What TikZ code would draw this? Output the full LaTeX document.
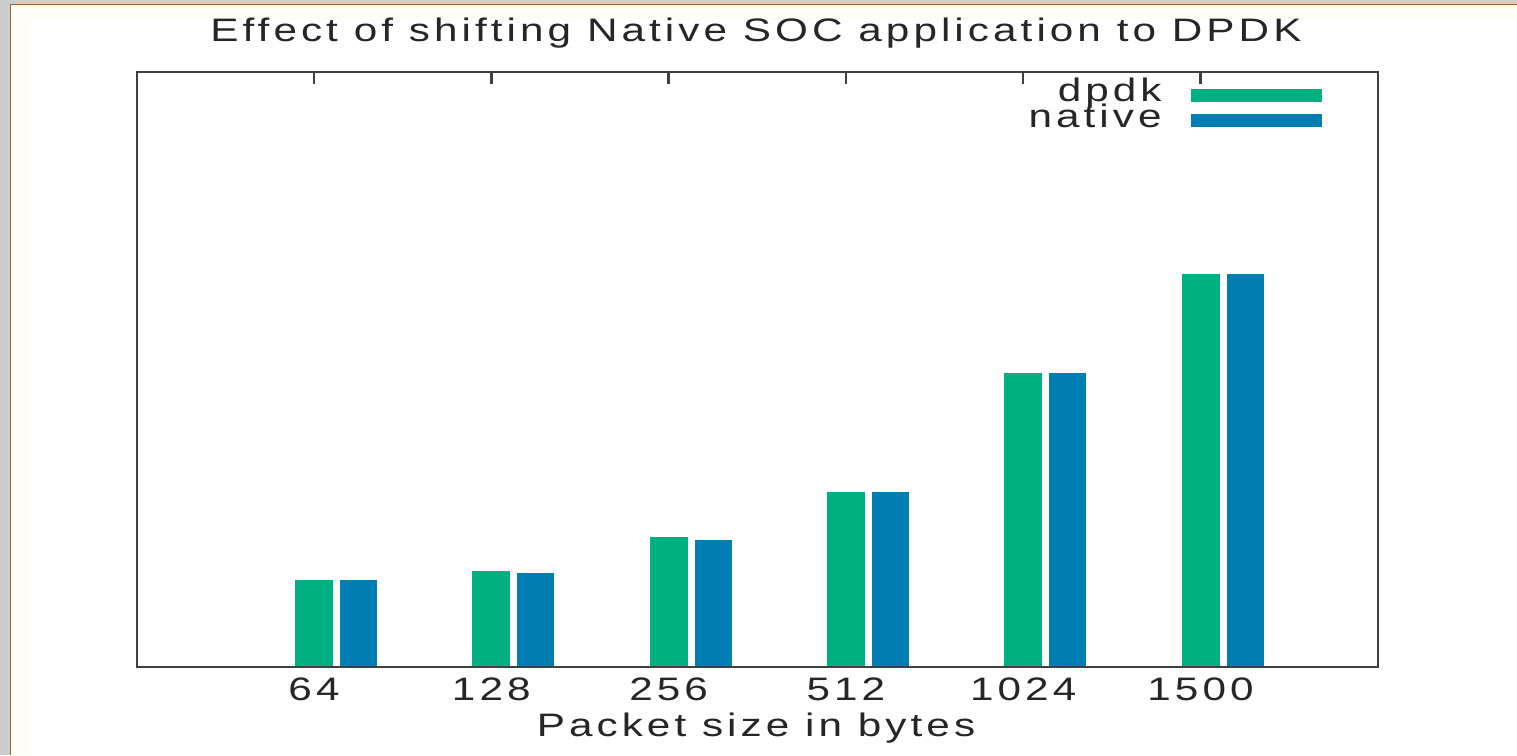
\documentclass[tikz,border=0pt]{standalone}
\usepackage{fontspec}
\newfontfamily\plotfont[FakeStretch=1.3,LetterSpace=12.5]{Liberation Sans}
\definecolor{dpdkgreen}{RGB}{0,176,128}
\definecolor{nativeblue}{RGB}{0,125,178}
\definecolor{framegray}{RGB}{64,64,64}
\definecolor{slidegray}{RGB}{205,205,205}
\definecolor{slidebrown}{RGB}{150,100,55}
\definecolor{slidecream}{RGB}{255,253,247}
\usetikzlibrary{positioning}

\begin{document}
\begin{tikzpicture}[x=0.02cm, y=0.02cm,
  every node/.style={font=\plotfont\fontsize{18.5}{21}\selectfont, text=black!85, inner sep=0pt},
  axisline/.style={draw=framegray, line width=1.4pt},
  keyline/.style={line width=7.4pt}]

\useasboundingbox (0,0) rectangle (1517,755);

% slide background
\fill[slidegray] (0,0) rectangle (1517,755);
\fill[slidecream] (10,0) rectangle (1517,751);
\fill[white] (30,0) rectangle (1517,735);
\draw[slidebrown, line width=0.9pt] (10.5,0) -- (10.5,750.5) -- (1517,750.5);

% bars: index / label / dpdk / native
\foreach \i/\lab/\g/\n in {0/64/175/175, 1/128/184/182, 2/256/218/215,
                           3/512/263/263, 4/1024/382/382, 5/1500/481/481} {
  \pgfmathsetmacro\t{314+177.3*\i}
  \fill[dpdkgreen] (\t-19,88) rectangle (\t+19,\g);
  \fill[nativeblue] (\t+26,88) rectangle (\t+63,\n);
  \draw[axisline] (\t,683) -- (\t,671);
  \node (tick\i) at (\t,66) {\lab};
}

% frame
\draw[axisline] (137,88) rectangle (1378,683);

% titles
\node[anchor=base] (title) at (756,713) {Effect of shifting Native SOC application to DPDK};
\node[anchor=base] (xlabel) at (756,19) {Packet size in bytes};

% key
\node[anchor=base east] (dpdk) at (1162,653) {dpdk};
\node[anchor=base east] (native) at (1162,627) {native};
\coordinate (dpdkA) at (1191,659);
\coordinate (dpdkB) at (1322,659);
\coordinate (nativeA) at (1191,634);
\coordinate (nativeB) at (1322,634);
\draw[keyline, dpdkgreen] (dpdkA) -- (dpdkB);
\draw[keyline, nativeblue] (nativeA) -- (nativeB);

\end{tikzpicture}
\end{document}
